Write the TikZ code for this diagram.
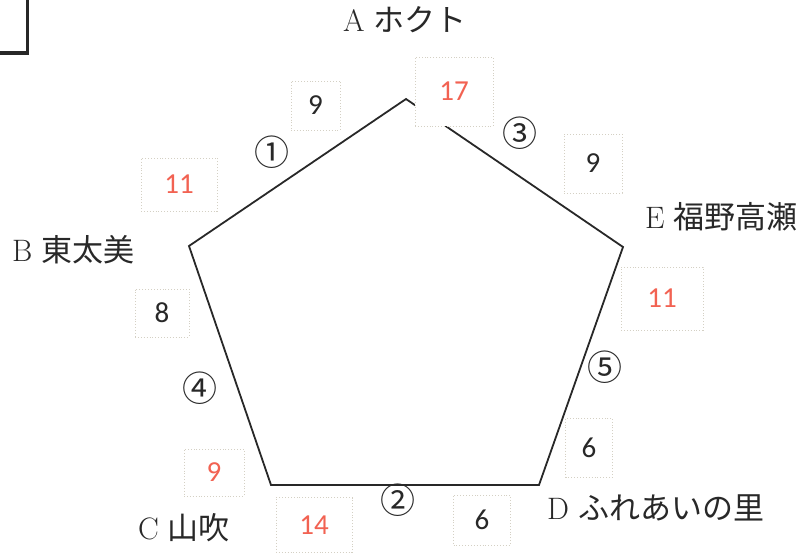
\documentclass[tikz,border=0pt]{standalone}
\usepackage{fontspec}
\newfontfamily\jp{Noto Sans CJK JP}
\newfontfamily\numf{Carlito}
\definecolor{redn}{RGB}{242,98,82}
\definecolor{ink}{RGB}{40,40,40}
\definecolor{boxc}{RGB}{212,208,196}
\tikzset{
  edge/.style={draw=ink, line width=1.8pt, line join=miter},
  nbox/.style={draw=boxc, dotted, line width=0.9pt, fill=white, inner sep=0pt, font=\fontsize{29}{29}\numf, text=ink},
  rnum/.style={text=redn},
  lab/.style={anchor=west, inner sep=0pt, font=\fontsize{31}{31}\selectfont, text=ink},
  circ/.style={inner sep=0pt, font=\fontsize{35}{35}\jp, text=ink},
}
\begin{document}
\begin{tikzpicture}[x=1pt,y=-1pt]
\useasboundingbox (0,0) rectangle (803,553);
% corner mark
\coordinate (k1) at (0,53);
\coordinate (k2) at (27.5,53);
\coordinate (k3) at (27.5,0);
\draw[ink, line width=3.2pt, line join=miter] (k1) -- (k2) -- (k3);
% pentagon
\coordinate (A) at (406,99);
\coordinate (E) at (623,247);
\coordinate (D) at (539,485);
\coordinate (C) at (271,485);
\coordinate (B) at (189,246);
\draw[edge] (A) -- (E) -- (D) -- (C) -- (B) -- cycle;
% boxes
\node[nbox, minimum width=49pt, minimum height=49pt] (b9a) at (315.5,105.5) {9};
\node[nbox, rnum, minimum width=78pt, minimum height=69pt] (b17) at (454,91.5) {17};
\node[nbox, rnum, minimum width=76pt, minimum height=53pt] (b11a) at (179,184.5) {11};
\node[nbox, minimum width=58pt, minimum height=59pt] (b9b) at (593,163.5) {9};
\node[nbox, rnum, minimum width=82pt, minimum height=63pt] (b11b) at (662,298.5) {11};
\node[nbox, minimum width=54pt, minimum height=48pt] (b8) at (162,313) {8};
\node[nbox, rnum, minimum width=60pt, minimum height=47pt] (b9c) at (214,472.5) {9};
\node[nbox, rnum, minimum width=76pt, minimum height=55pt] (b14) at (314,525) {14};
\node[nbox, minimum width=57pt, minimum height=50pt] (b6a) at (482,520) {6};
\node[nbox, minimum width=47pt, minimum height=59pt] (b6b) at (589,447.5) {6};
% circled numbers
\node[circ] (c1) at (272,152) {①};
\node[circ] (c3) at (520,133) {③};
\node[circ] (c4) at (200,388) {④};
\node[circ] (c5) at (605,367) {⑤};
\node[circ] (c2) at (398,500) {②};
% labels
\node[lab] (lA) at (343,20) {A\hspace{9pt}{\jp ホクト}};
\node[lab] (lE) at (645,217) {E\hspace{9pt}{\jp 福野高瀬}};
\node[lab] (lB) at (12,250) {B\hspace{9pt}{\jp 東太美}};
\node[lab] (lC) at (138,528) {C\hspace{9pt}{\jp 山吹}};
\node[lab] (lD) at (547,508) {D\hspace{9pt}{\jp ふれあいの里}};
\end{tikzpicture}
\end{document}
